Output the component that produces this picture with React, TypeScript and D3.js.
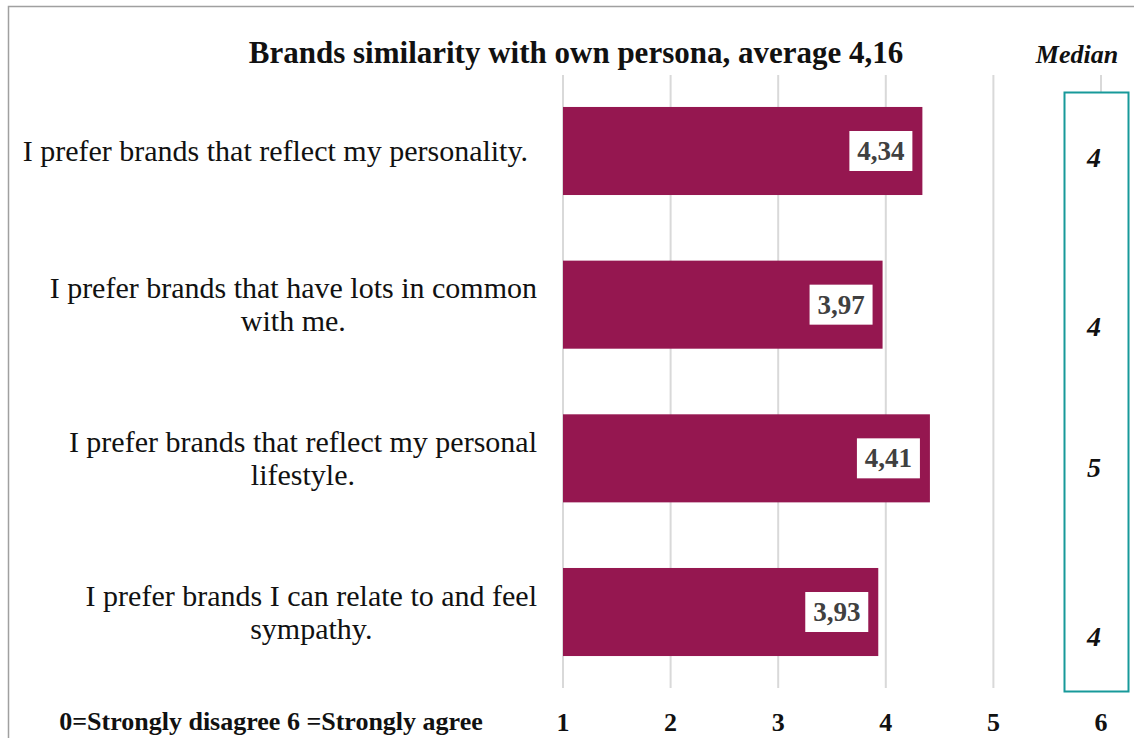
import React, { useEffect, useRef } from "react";
import * as d3 from "d3";

const categories: string[][] = [
  ["I prefer brands that reflect my personality."],
  ["I prefer brands that have lots in common", "with me."],
  ["I prefer brands that reflect my personal", "lifestyle."],
  ["I prefer brands I can relate to and feel", "sympathy."],
];
const averages: number[] = [4.34, 3.97, 4.41, 3.93];
const medians: number[] = [4, 4, 5, 4];
const ticks: number[] = [1, 2, 3, 4, 5, 6];
const title = "Brands similarity with own persona, average 4,16";
const scaleNote = "0=Strongly disagree 6 =Strongly agree";
const medianTitle = "Median";

const W = 1134;
const H = 738;
const FONT = "'Liberation Serif', 'Times New Roman', serif";
const BAR = "#951750";
const TEAL = "#17999a";
const medianShift = [6, 21, 9, 24];

export default function App() {
  const ref = useRef<SVGSVGElement | null>(null);

  useEffect(() => {
    const svg = d3.select(ref.current);
    svg.selectAll("*").remove();

    const x = d3.scaleLinear().domain([1, 6]).range([563, 1101]);
    const ids = categories.map((_, i) => String(i));
    const y = d3
      .scaleBand<string>()
      .domain(ids)
      .range([75, 688])
      .paddingInner(0.427)
      .paddingOuter(0.208);

    // border
    svg
      .append("rect")
      .attr("x", 8.5)
      .attr("y", 6.5)
      .attr("width", 1300)
      .attr("height", 900)
      .attr("fill", "none")
      .attr("stroke", "#a0a0a0")
      .attr("stroke-width", 1.5);

    // gridlines
    svg
      .append("g")
      .selectAll("line")
      .data(ticks)
      .join("line")
      .attr("x1", (d) => x(d))
      .attr("x2", (d) => x(d))
      .attr("y1", 75)
      .attr("y2", 688)
      .attr("stroke", "#d9d9d9")
      .attr("stroke-width", 2);

    // median box
    svg
      .append("rect")
      .attr("x", 1064.5)
      .attr("y", 92.5)
      .attr("width", 64)
      .attr("height", 599)
      .attr("fill", "#fff")
      .attr("stroke", TEAL)
      .attr("stroke-width", 2);

    // bars
    svg
      .append("g")
      .selectAll("rect")
      .data(averages)
      .join("rect")
      .attr("x", x(1))
      .attr("y", (_, i) => y(ids[i])!)
      .attr("width", (d) => x(d) - x(1))
      .attr("height", y.bandwidth())
      .attr("fill", BAR);

    // value labels
    const lab = svg.append("g");
    averages.forEach((v, i) => {
      const cy = y(ids[i])! + y.bandwidth() / 2;
      const right = x(v) - 10;
      const bw = 63;
      lab
        .append("rect")
        .attr("x", right - bw)
        .attr("y", cy - 20)
        .attr("width", bw)
        .attr("height", 40)
        .attr("fill", "#fff");
      lab
        .append("text")
        .attr("x", right - bw / 2)
        .attr("y", cy + 9)
        .attr("text-anchor", "middle")
        .attr("font-family", FONT)
        .attr("font-size", 27)
        .attr("font-weight", "bold")
        .attr("fill", "#404040")
        .text(v.toFixed(2).replace(".", ","));
    });

    // category labels
    const cat = svg.append("g");
    const lineH = 33;
    categories.forEach((lines, i) => {
      const cy = y(ids[i])! + y.bandwidth() / 2;
      const texts = lines.map((ln, j) =>
        cat
          .append("text")
          .attr("y", cy + (j - (lines.length - 1) / 2) * lineH + 10)
          .attr("font-family", FONT)
          .attr("font-size", 30)
          .attr("fill", "#111")
          .attr("text-anchor", "middle")
          .text(ln)
      );
      const widths = texts.map((t) => (t.node() as SVGTextElement).getComputedTextLength());
      const maxW = Math.max(...widths);
      const right = i === 0 ? 528 : 537;
      texts.forEach((t) => t.attr("x", right - maxW / 2));
    });

    // medians
    svg
      .append("g")
      .selectAll("text")
      .data(medians)
      .join("text")
      .attr("x", 1094)
      .attr("y", (_, i) => y(ids[i])! + y.bandwidth() / 2 + medianShift[i] + 10)
      .attr("text-anchor", "middle")
      .attr("font-family", FONT)
      .attr("font-size", 28)
      .attr("font-weight", "bold")
      .attr("font-style", "italic")
      .attr("fill", "#111")
      .text((d) => String(d));

    // tick labels
    svg
      .append("g")
      .selectAll("text")
      .data(ticks)
      .join("text")
      .attr("x", (d) => x(d))
      .attr("y", 731)
      .attr("text-anchor", "middle")
      .attr("font-family", FONT)
      .attr("font-size", 26)
      .attr("font-weight", "bold")
      .attr("fill", "#111")
      .text((d) => String(d));

    // title
    svg
      .append("text")
      .attr("x", 576)
      .attr("y", 63)
      .attr("text-anchor", "middle")
      .attr("font-family", FONT)
      .attr("font-size", 31)
      .attr("font-weight", "bold")
      .attr("fill", "#111")
      .text(title);

    svg
      .append("text")
      .attr("x", 1077)
      .attr("y", 63)
      .attr("text-anchor", "middle")
      .attr("font-family", FONT)
      .attr("font-size", 26)
      .attr("font-weight", "bold")
      .attr("font-style", "italic")
      .attr("fill", "#111")
      .text(medianTitle);

    svg
      .append("text")
      .attr("x", 271)
      .attr("y", 730)
      .attr("text-anchor", "middle")
      .attr("font-family", FONT)
      .attr("font-size", 26)
      .attr("font-weight", "bold")
      .attr("fill", "#111")
      .text(scaleNote);
  }, []);

  return (
    <svg
      ref={ref}
      width={W}
      height={H}
      style={{ position: "absolute", left: 0, top: 0, background: "#fff" }}
    />
  );
}
